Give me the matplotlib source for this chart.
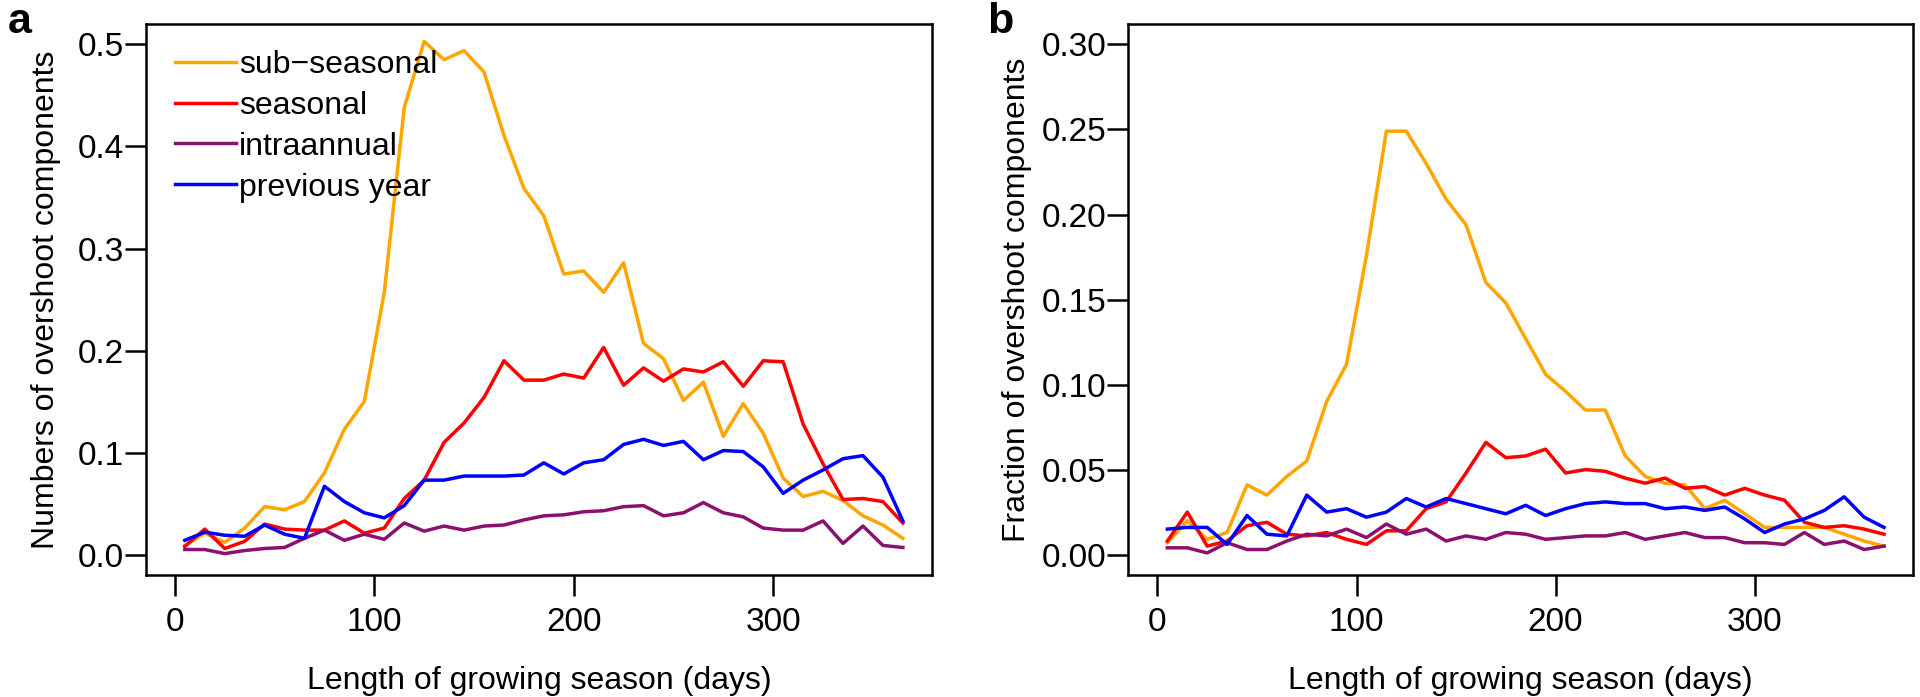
import numpy as np
import matplotlib
matplotlib.use("Agg")
import matplotlib.pyplot as plt

plt.rcParams['font.family'] = ['Liberation Sans', 'DejaVu Sans']

days = list(range(5, 366, 10))

# panel a: numbers of overshoot components
a_sub = [0.009, 0.021, 0.012, 0.026, 0.047, 0.044, 0.052, 0.080, 0.123, 0.150,
         0.257, 0.438, 0.503, 0.485, 0.494, 0.473, 0.411, 0.359, 0.332, 0.275,
         0.278, 0.257, 0.286, 0.207, 0.192, 0.151, 0.169, 0.116, 0.148, 0.119,
         0.075, 0.057, 0.062, 0.053, 0.038, 0.029, 0.016]
a_seas = [0.008, 0.025, 0.006, 0.013, 0.030, 0.025, 0.024, 0.024, 0.033, 0.021,
          0.026, 0.055, 0.073, 0.110, 0.129, 0.154, 0.190, 0.171, 0.171, 0.177,
          0.173, 0.203, 0.166, 0.183, 0.170, 0.182, 0.179, 0.189, 0.165, 0.190,
          0.189, 0.128, 0.089, 0.054, 0.055, 0.052, 0.031]
a_intra = [0.005, 0.005, 0.001, 0.004, 0.006, 0.007, 0.016, 0.024, 0.014, 0.020,
           0.015, 0.031, 0.023, 0.028, 0.024, 0.028, 0.029, 0.034, 0.038, 0.039,
           0.042, 0.043, 0.047, 0.048, 0.038, 0.041, 0.051, 0.041, 0.037, 0.026,
           0.024, 0.024, 0.033, 0.011, 0.028, 0.009, 0.007]
a_prev = [0.014, 0.022, 0.019, 0.018, 0.029, 0.020, 0.016, 0.067, 0.052, 0.041,
          0.036, 0.048, 0.073, 0.073, 0.077, 0.077, 0.077, 0.078, 0.090, 0.079,
          0.090, 0.093, 0.108, 0.113, 0.107, 0.111, 0.093, 0.102, 0.101, 0.086,
          0.060, 0.073, 0.083, 0.094, 0.097, 0.076, 0.033]

# panel b: fraction of overshoot components
b_sub = [0.007, 0.020, 0.009, 0.013, 0.041, 0.035, 0.046, 0.055, 0.090, 0.112,
         0.176, 0.249, 0.249, 0.230, 0.209, 0.194, 0.160, 0.148, 0.127, 0.106,
         0.096, 0.085, 0.085, 0.058, 0.046, 0.042, 0.041, 0.027, 0.032, 0.024,
         0.016, 0.016, 0.016, 0.016, 0.012, 0.008, 0.005]
b_seas = [0.008, 0.025, 0.005, 0.008, 0.017, 0.019, 0.012, 0.011, 0.013, 0.009,
          0.006, 0.014, 0.014, 0.027, 0.031, 0.048, 0.066, 0.057, 0.058, 0.062,
          0.048, 0.050, 0.049, 0.045, 0.042, 0.045, 0.039, 0.040, 0.035, 0.039,
          0.035, 0.032, 0.019, 0.016, 0.017, 0.015, 0.012]
b_intra = [0.004, 0.004, 0.001, 0.007, 0.003, 0.003, 0.008, 0.012, 0.011, 0.015,
           0.010, 0.018, 0.012, 0.015, 0.008, 0.011, 0.009, 0.013, 0.012, 0.009,
           0.010, 0.011, 0.011, 0.013, 0.009, 0.011, 0.013, 0.010, 0.010, 0.007,
           0.007, 0.006, 0.013, 0.006, 0.008, 0.003, 0.005]
b_prev = [0.015, 0.016, 0.016, 0.006, 0.023, 0.012, 0.011, 0.035, 0.025, 0.027,
          0.022, 0.025, 0.033, 0.028, 0.033, 0.030, 0.027, 0.024, 0.029, 0.023,
          0.027, 0.030, 0.031, 0.030, 0.030, 0.027, 0.028, 0.026, 0.028, 0.021,
          0.013, 0.018, 0.021, 0.026, 0.034, 0.022, 0.016]

labels = ["sub\u2212seasonal", "seasonal", "intraannual", "previous year"]
colors = ["#FFA500", "#FF0000", "#8B1070", "#0000FF"]
xticks = [0, 100, 200, 300]

FS = 23
fig = plt.figure(figsize=(19.2, 6.97), dpi=100)
ax1 = fig.add_axes([0.0759, 0.175, 0.4095, 0.7905])
ax2 = fig.add_axes([0.5877, 0.175, 0.4087, 0.7905])


def style(ax, yticks, fmt, ylim, ylabel, lpad):
    ax.set_xlim(-14.6, 379.6)
    ax.set_ylim(*ylim)
    ax.set_xticks(xticks)
    ax.set_yticks(yticks)
    ax.set_yticklabels([fmt.format(v) for v in yticks])
    for s in ax.spines.values():
        s.set_linewidth(1.8)
    ax.tick_params(axis='both', direction='out', length=15, width=1.8, labelsize=FS + 1)
    ax.tick_params(axis='y', pad=1)
    ax.tick_params(axis='x', pad=8)
    ax.set_xlabel("Length of growing season (days)", fontsize=FS, labelpad=20)
    ax.set_ylabel(ylabel, fontsize=FS, labelpad=lpad)


for ser, c, l in zip([a_sub, a_seas, a_intra, a_prev], colors, labels):
    ax1.plot(days, ser, color=c, lw=2.5, label=l)
for ser, c in zip([b_sub, b_seas, b_intra, b_prev], colors):
    ax2.plot(days, ser, color=c, lw=2.5)

style(ax1, np.arange(0, 0.51, 0.1), "{:.1f}", (-0.02, 0.52), "Numbers of overshoot components", 12)
style(ax2, np.arange(0, 0.31, 0.05), "{:.2f}", (-0.012, 0.312), "Fraction of overshoot components", 7)

ax1.legend(loc='upper left', bbox_to_anchor=(0.037, 0.953), frameon=False, fontsize=FS,
           handlelength=1.9, handletextpad=0.1, labelspacing=0.34, borderpad=0, borderaxespad=0)

fig.text(0.004, 0.952, "a", fontsize=31, fontweight='bold')
fig.text(0.514, 0.952, "b", fontsize=31, fontweight='bold')

fig.savefig("out.png", dpi=100)
